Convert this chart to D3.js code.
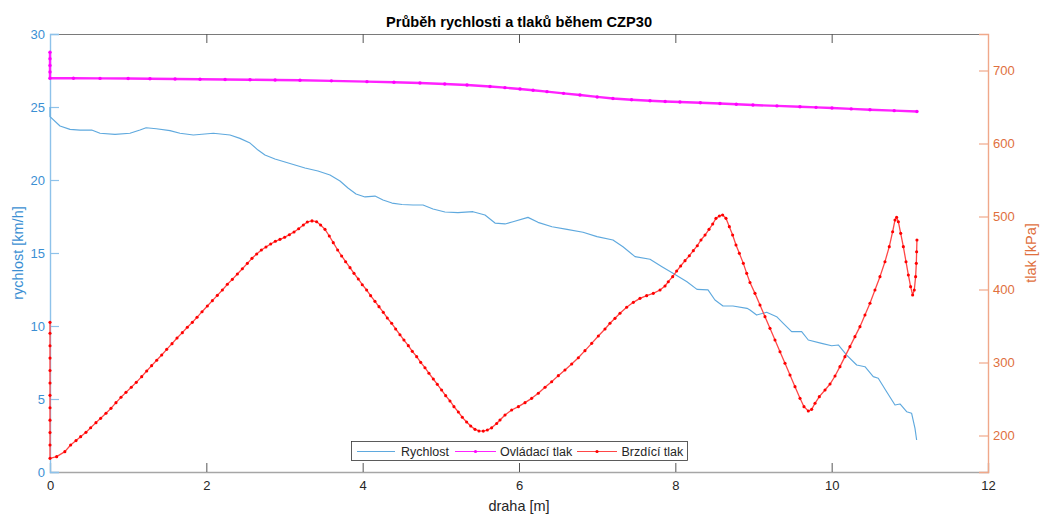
<!DOCTYPE html>
<html>
<head>
<meta charset="utf-8">
<script src="https://cdn.jsdelivr.net/npm/d3@7"></script>
<style>
  html, body { margin: 0; padding: 0; background: #fff; }
  svg { display: block; font-family: "Liberation Sans", Arial, Helvetica, sans-serif; }
</style>
</head>
<body>
<svg id="chart" width="1040" height="516"></svg>
<script>
// ---------- data ----------
const titleText = "Průběh rychlosti a tlaků během CZP30";
const xLabel = "draha [m]";
const yLeftLabel = "rychlost [km/h]";
const yRightLabel = "tlak [kPa]";
const seriesNames = ["Rychlost", "Ovládací tlak", "Brzdící tlak"];

const xTicks = [0, 2, 4, 6, 8, 10, 12];
const yLeftTicks = [0, 5, 10, 15, 20, 25, 30];
const yRightTicks = [200, 300, 400, 500, 600, 700];

// Rychlost [km/h]
const speedX = [0, 0, 0.128, 0.256, 0.384, 0.533, 0.64, 0.832, 1.023, 1.151, 1.23, 1.36, 1.535, 1.663, 1.834, 2.09, 2.303, 2.43,
  2.559, 2.661, 2.75, 2.878, 3.006, 3.134, 3.262, 3.428, 3.582, 3.71, 3.812, 3.915, 4.03, 4.158, 4.26, 4.375, 4.503, 4.644,
  4.772, 4.9, 5.053, 5.219, 5.411, 5.565, 5.693, 5.821, 5.923, 6.115, 6.243, 6.422, 6.614, 6.819, 6.998, 7.202, 7.33, 7.484,
  7.676, 7.829, 7.97, 8.149, 8.277, 8.418, 8.507, 8.61, 8.737, 8.917, 8.955, 9.04, 9.168, 9.296, 9.381, 9.488, 9.616, 9.701,
  9.872, 10.0, 10.085, 10.192, 10.32, 10.426, 10.532, 10.596, 10.703, 10.81, 10.874, 10.959, 11.023, 11.066, 11.087];
const speedV = [25.0, 24.34, 23.7, 23.47, 23.42, 23.42, 23.2, 23.13, 23.2, 23.42, 23.58, 23.51, 23.38, 23.2, 23.08, 23.2, 23.08, 22.85,
  22.53, 22.05, 21.71, 21.44, 21.23, 21.03, 20.82, 20.62, 20.34, 19.93, 19.45, 19.04, 18.84, 18.9, 18.63, 18.42, 18.32, 18.29,
  18.29, 18.01, 17.81, 17.77, 17.83, 17.6, 17.05, 16.99, 17.14, 17.44, 17.1, 16.8, 16.62, 16.42, 16.12, 15.89, 15.43, 14.75,
  14.57, 14.06, 13.61, 13.03, 12.51, 12.47, 11.78, 11.37, 11.37, 11.21, 11.1, 10.75, 10.94, 10.64, 10.18, 9.61, 9.61, 9.04,
  8.81, 8.65, 8.7, 8.01, 7.33, 7.21, 6.53, 6.42, 5.5, 4.59, 4.66, 4.13, 4.02, 2.99, 2.19];

// Ovládací tlak [kPa]
const ctrlX = [0, 0, 0, 0, 0, 0.3, 0.64, 1.0, 1.279, 1.6, 1.919, 2.24, 2.559, 2.88, 3.198, 3.6, 4.055, 4.4, 4.733, 5.05, 5.335,
  5.629, 5.82, 6.013, 6.18, 6.358, 6.57, 6.78, 7.0, 7.202, 7.44, 7.676, 7.87, 8.059, 8.32, 8.571, 8.78, 8.993, 9.3, 9.594,
  9.8, 10.004, 10.25, 10.49, 10.8, 11.091];
const ctrlP = [725, 716, 707, 698, 689.3, 689.3, 689.2, 689, 688.8, 688.4, 688, 687.7, 687.3, 686.9, 686.6, 685.8, 684.7, 683.9, 682.9, 681.6, 680.1,
  678.1, 676.5, 674.7, 673, 671, 668.7, 666.4, 663.8, 661.6, 660, 658.6, 657.6, 656.8, 655.8, 654.8, 653.7, 652.7, 651.5, 650.4,
  649.5, 648.6, 647.4, 646.2, 645, 643.8];

// Brzdící tlak [kPa]
const brakeX = [0, 0, 0, 0, 0, 0, 0, 0, 0, 0, 0, 0,
  0.085, 0.19, 0.264, 0.333, 0.392, 0.46, 0.52, 0.588, 0.648, 0.716, 0.78, 0.844, 0.908, 0.972, 1.04, 1.104, 1.173, 1.237,
  1.3, 1.365, 1.429, 1.493, 1.561, 1.625, 1.693, 1.757, 1.821, 1.881, 1.945, 2.013, 2.077, 2.141, 2.205, 2.269, 2.333, 2.397,
  2.461, 2.525, 2.584, 2.644, 2.704, 2.763, 2.823, 2.883, 2.942, 3.002, 3.062, 3.122, 3.181, 3.241, 3.292, 3.352, 3.411, 3.462,
  3.518, 3.573, 3.624, 3.68, 3.731, 3.782, 3.838, 3.889, 3.944, 3.995, 4.051, 4.102, 4.157, 4.209, 4.264, 4.315, 4.371, 4.422,
  4.477, 4.528, 4.584, 4.635, 4.691, 4.742, 4.797, 4.848, 4.904, 4.955, 5.01, 5.062, 5.117, 5.168, 5.224, 5.275, 5.33, 5.382,
  5.437, 5.488, 5.543, 5.595, 5.65, 5.714, 5.757, 5.821, 5.906, 5.992, 6.077, 6.162, 6.247, 6.333, 6.418, 6.503, 6.588, 6.674,
  6.759, 6.844, 6.93, 7.015, 7.1, 7.164, 7.228, 7.292, 7.377, 7.463, 7.548, 7.633, 7.718, 7.804, 7.868, 7.91, 7.966, 8.017,
  8.068, 8.124, 8.179, 8.23, 8.281, 8.328, 8.38, 8.431, 8.478, 8.52, 8.563, 8.605, 8.648, 8.691, 8.733, 8.776, 8.819, 8.87,
  8.913, 8.955, 9.019, 9.083, 9.147, 9.211, 9.275, 9.339, 9.403, 9.467, 9.531, 9.595, 9.646, 9.701, 9.744, 9.787, 9.842, 9.915,
  9.979, 10.043, 10.106, 10.17, 10.234, 10.298, 10.362, 10.426, 10.49, 10.554, 10.618, 10.682, 10.737, 10.78, 10.81, 10.831,
  10.853, 10.883, 10.917, 10.951, 10.981, 11.01, 11.036, 11.057, 11.074, 11.083, 11.087, 11.091];
const brakeP = [355, 340, 323, 306, 289, 272, 255, 238, 221, 204, 187, 168.7,
  171, 177.9, 187, 193, 198.4, 204.3, 210.7, 217.6, 223.5, 230.4, 237.2, 245, 252.3, 259.1, 266, 272.8, 280.6, 288.4,
  295.7, 303, 310.3, 318, 325.8, 333.6, 340.9, 348.2, 355, 361.9, 369.6, 377.4, 384.7, 392, 399.3, 407.1, 413.9, 421.2,
  428.5, 435.8, 442.7, 448.6, 454.1, 458.2, 462.3, 466, 468.7, 471.5, 475.1, 478.8, 483.3, 488.4, 492.5, 494, 492.9, 488.4,
  482.4, 473.3, 464.2, 454.1, 445.9, 438.1, 429.9, 422.1, 414.4, 406.6, 399.3, 391.6, 383.8, 376.5, 368.7, 361, 353.7, 345.9,
  338.1, 330.8, 323.1, 315.3, 308, 300.2, 292.9, 285.2, 277.4, 270.1, 262.3, 254.6, 247.3, 239.5, 232.2, 224.9, 218.5, 213,
  208.4, 206.2, 206, 207.5, 210.5, 216.5, 221.2, 228.1, 234.9, 239.5, 245, 250.9, 257.8, 266, 273.7, 282, 289.7, 298,
  306.6, 316.2, 326.2, 336.3, 345.9, 353.7, 360.5, 367.4, 375.6, 382.4, 387.9, 391.6, 394.7, 399.3, 404.8, 410.7, 417.6, 425.3,
  432.2, 439.5, 446.3, 453.2, 460, 467.8, 474.6, 482.4, 489.7, 497.5, 500.7, 502.1, 497.5, 486.1, 474.6, 461, 449.5, 435.8,
  422.1, 409.5, 394.7, 378.8, 362.8, 346.8, 330.8, 314.8, 298.9, 282.9, 266.9, 250.9, 239.5, 233.6, 235.8, 244.1, 253.2, 262.3,
  270.5, 281.5, 294.3, 308, 321.7, 335.4, 349.1, 365.1, 381.1, 399.3, 417.6, 438.1, 458.7, 479.2, 495.2, 498.9,
  492.9, 476.9, 458.7, 438.1, 419.9, 403.9, 392.5, 399.3, 417.6, 435.8, 451.8, 467.8];

// ---------- layout ----------
const L = 50, R = 988, T = 34, B = 472;
const blueAxis = "#3b8fd3", blueLine = "#5fa9de", blueAxisLine = "#8ec2ea";
const orangeText = "#e0703e", orangeAxisLine = "#f0a88a";
const grayAxis = "#a6a6a6", darkText = "#262626";
const fontFam = "'Liberation Sans', Arial, sans-serif";

const svg = d3.select("#chart");
const x = d3.scaleLinear().domain([0, 12]).range([L, R]);
const yL = d3.scaleLinear().domain([0, 30]).range([B, T]);
const yR = d3.scaleLinear().domain([150, 750]).range([B, T]);

svg.append("line").attr("x1", L).attr("x2", R).attr("y1", T + 0.5).attr("y2", T + 0.5)
  .attr("stroke", "#7a7a7a").attr("stroke-width", 1);

const gxb = svg.append("g").attr("transform", `translate(0,${B})`)
  .call(d3.axisBottom(x).tickValues(xTicks).tickSize(-9).tickPadding(9).tickFormat(d3.format("d")));
gxb.select(".domain").attr("stroke", grayAxis).attr("stroke-width", 1.4);
gxb.selectAll(".tick line").attr("stroke", "#555");
gxb.selectAll(".tick text").attr("fill", darkText).style("font-size", "13px").style("font-family", fontFam);

const gxt = svg.append("g").attr("transform", `translate(0,${T})`)
  .call(d3.axisTop(x).tickValues(xTicks).tickSize(-9).tickFormat(""));
gxt.select(".domain").remove();
gxt.selectAll(".tick line").attr("stroke", "#555");

const gyl = svg.append("g").attr("transform", `translate(${L},0)`)
  .call(d3.axisLeft(yL).tickValues(yLeftTicks).tickSize(-9).tickPadding(5));
gyl.select(".domain").attr("stroke", blueAxisLine).attr("stroke-width", 1.4);
gyl.selectAll(".tick line").attr("stroke", blueAxisLine).attr("stroke-width", 1.2);
gyl.selectAll(".tick text").attr("fill", blueAxis).style("font-size", "13px").style("font-family", fontFam);

const gyr = svg.append("g").attr("transform", `translate(${R},0)`)
  .call(d3.axisRight(yR).tickValues(yRightTicks).tickSize(-9).tickPadding(5));
gyr.select(".domain").attr("stroke", orangeAxisLine).attr("stroke-width", 1.4);
gyr.selectAll(".tick line").attr("stroke", orangeAxisLine).attr("stroke-width", 1.2);
gyr.selectAll(".tick text").attr("fill", orangeText).style("font-size", "13px").style("font-family", fontFam);

// ---------- series ----------
const speedData = speedX.map((d, i) => [d, speedV[i]]);
const ctrlData = ctrlX.map((d, i) => [d, ctrlP[i]]);
const brakeData = brakeX.map((d, i) => [d, brakeP[i]]);

const plot = svg.append("g");
const lineL = d3.line().x(d => x(d[0])).y(d => yL(d[1]));
const lineR = d3.line().x(d => x(d[0])).y(d => yR(d[1]));

plot.append("path").datum(speedData).attr("d", lineL)
  .attr("fill", "none").attr("stroke", blueLine).attr("stroke-width", 1.15).attr("stroke-linejoin", "round");

plot.append("path").datum(ctrlData).attr("d", lineR)
  .attr("fill", "none").attr("stroke", "#ff22ff").attr("stroke-width", 2.4);
plot.append("g").selectAll("circle").data(ctrlData).join("circle")
  .attr("cx", d => x(d[0])).attr("cy", d => yR(d[1])).attr("r", 1.7).attr("fill", "#ff00ff");

plot.append("path").datum(brakeData).attr("d", lineR)
  .attr("fill", "none").attr("stroke", "#ff4646").attr("stroke-width", 1.3).attr("stroke-linejoin", "round");
plot.append("g").selectAll("circle").data(brakeData).join("circle")
  .attr("cx", d => x(d[0])).attr("cy", d => yR(d[1])).attr("r", 1.55).attr("fill", "#ff0000");

// ---------- texts ----------
svg.append("text").attr("x", (L + R) / 2).attr("y", 27).attr("text-anchor", "middle")
  .style("font-size", "14.6px").style("font-weight", "bold").attr("fill", "#000").text(titleText);
svg.append("text").attr("x", (L + R) / 2).attr("y", 511).attr("text-anchor", "middle")
  .style("font-size", "14.5px").attr("fill", darkText).text(xLabel);
svg.append("text").attr("transform", `translate(18,${(T + B) / 2}) rotate(-90)`).attr("text-anchor", "middle")
  .attr("dominant-baseline", "central").style("font-size", "14.5px").attr("fill", blueAxis).text(yLeftLabel);
svg.append("text").attr("transform", `translate(1031,${(T + B) / 2}) rotate(-90)`).attr("text-anchor", "middle")
  .attr("dominant-baseline", "central").style("font-size", "14.5px").attr("fill", orangeText).text(yRightLabel);

// ---------- legend ----------
const lg = svg.append("g");
lg.append("rect").attr("x", 351.5).attr("y", 441.5).attr("width", 336).attr("height", 19)
  .attr("fill", "#fff").attr("stroke", "#333").attr("stroke-width", 0.8);
const legendItems = [
  { name: seriesNames[0], x1: 357, x2: 395, tx: 401, color: blueLine, dot: false },
  { name: seriesNames[1], x1: 455, x2: 496, tx: 500, color: "#ff22ff", dot: true, dotColor: "#ff00ff" },
  { name: seriesNames[2], x1: 577, x2: 617, tx: 621.5, color: "#ff4646", dot: true, dotColor: "#ff0000" }
];
const ly = 451.5;
legendItems.forEach(it => {
  lg.append("line").attr("x1", it.x1).attr("x2", it.x2).attr("y1", ly).attr("y2", ly)
    .attr("stroke", it.color).attr("stroke-width", 1.2);
  if (it.dot) lg.append("circle").attr("cx", (it.x1 + it.x2) / 2).attr("cy", ly).attr("r", 1.6).attr("fill", it.dotColor);
  lg.append("text").attr("x", it.tx).attr("y", ly).attr("dominant-baseline", "central")
    .style("font-size", "12.5px").attr("fill", darkText).text(it.name);
});
</script>
</body>
</html>
